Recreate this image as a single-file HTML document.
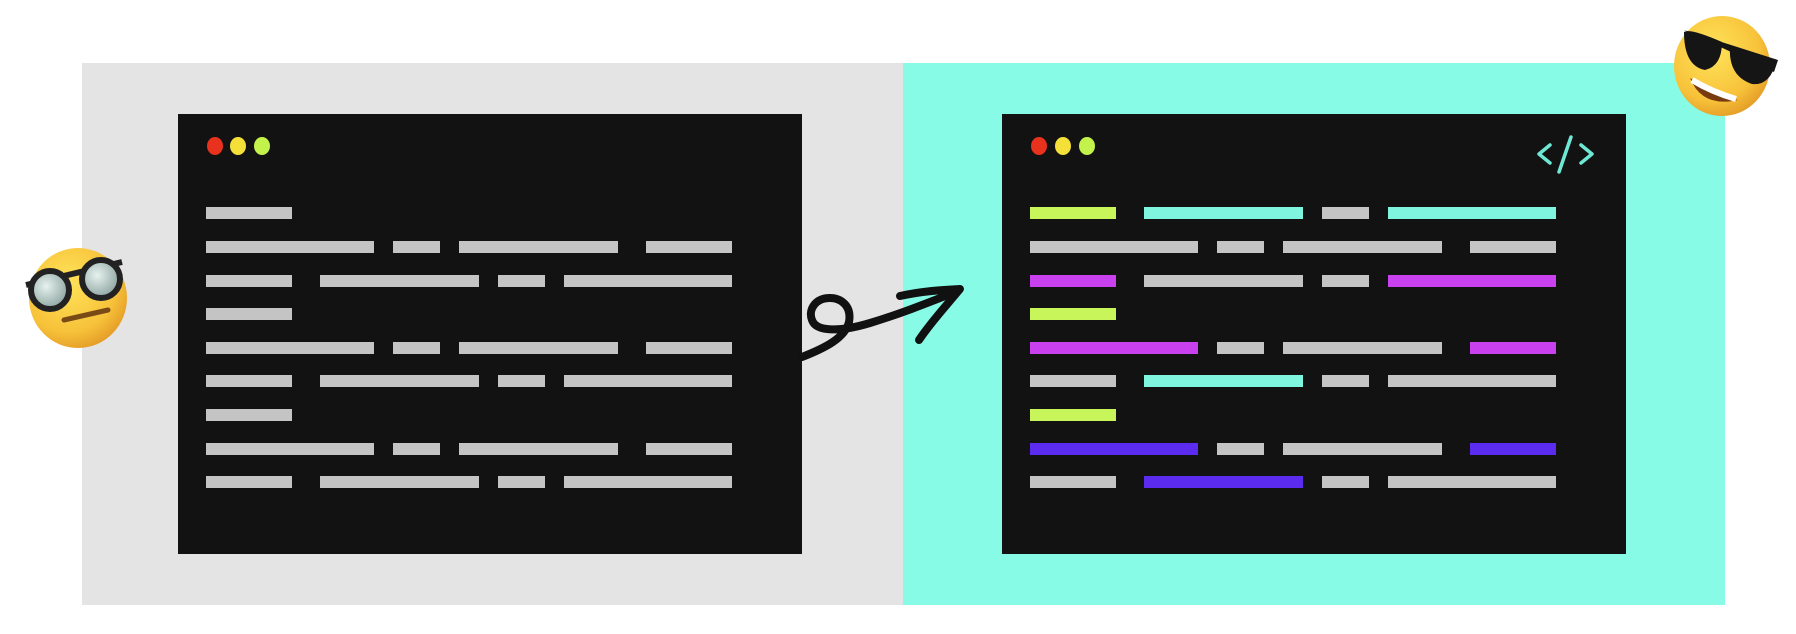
<!DOCTYPE html>
<html><head><style>
html,body{margin:0;padding:0;background:#fff;width:1796px;height:634px;overflow:hidden}
</style></head><body>
<svg width="1796" height="634" viewBox="0 0 1796 634" xmlns="http://www.w3.org/2000/svg">
<defs>
<radialGradient id="face" cx="40%" cy="35%" r="70%"><stop offset="0" stop-color="#ffe45a"/><stop offset="0.7" stop-color="#f7c23a"/><stop offset="1" stop-color="#e39a26"/></radialGradient>
<radialGradient id="lens" cx="40%" cy="40%" r="60%"><stop offset="0" stop-color="#e6f2ee"/><stop offset="1" stop-color="#8fa6a2"/></radialGradient>
</defs>
<rect x="82" y="63" width="822" height="542" fill="#e4e4e4"/>
<rect x="903" y="63" width="822" height="542" fill="#87fbe6"/>
<rect x="178" y="114" width="624" height="440" fill="#121212"/>
<rect x="1002" y="114" width="624" height="440" fill="#121212"/>
<g>
<ellipse cx="215" cy="146" rx="8" ry="9" fill="#e8321e"/>
<ellipse cx="238" cy="146" rx="8" ry="9" fill="#f5e03a"/>
<ellipse cx="262" cy="146" rx="8" ry="9" fill="#c3f24a"/>
<ellipse cx="1039" cy="146" rx="8" ry="9" fill="#e8321e"/>
<ellipse cx="1063" cy="146" rx="8" ry="9" fill="#f5e03a"/>
<ellipse cx="1087" cy="146" rx="8" ry="9" fill="#c3f24a"/>
</g>
<g fill="#c4c4c4">
<rect x="206" y="207" width="86" height="12"/>
<rect x="206" y="241" width="168" height="12"/><rect x="393" y="241" width="47" height="12"/><rect x="459" y="241" width="159" height="12"/><rect x="646" y="241" width="86" height="12"/>
<rect x="206" y="275" width="86" height="12"/><rect x="320" y="275" width="159" height="12"/><rect x="498" y="275" width="47" height="12"/><rect x="564" y="275" width="168" height="12"/>
<rect x="206" y="308" width="86" height="12"/>
<rect x="206" y="342" width="168" height="12"/><rect x="393" y="342" width="47" height="12"/><rect x="459" y="342" width="159" height="12"/><rect x="646" y="342" width="86" height="12"/>
<rect x="206" y="375" width="86" height="12"/><rect x="320" y="375" width="159" height="12"/><rect x="498" y="375" width="47" height="12"/><rect x="564" y="375" width="168" height="12"/>
<rect x="206" y="409" width="86" height="12"/>
<rect x="206" y="443" width="168" height="12"/><rect x="393" y="443" width="47" height="12"/><rect x="459" y="443" width="159" height="12"/><rect x="646" y="443" width="86" height="12"/>
<rect x="206" y="476" width="86" height="12"/><rect x="320" y="476" width="159" height="12"/><rect x="498" y="476" width="47" height="12"/><rect x="564" y="476" width="168" height="12"/>
</g>
<g transform="translate(824,0)">
<rect x="206" y="207" width="86" height="12" fill="#c8f55a"/><rect x="320" y="207" width="159" height="12" fill="#7ff5df"/><rect x="498" y="207" width="47" height="12" fill="#c4c4c4"/><rect x="564" y="207" width="168" height="12" fill="#7ff5df"/>
<g fill="#c4c4c4"><rect x="206" y="241" width="168" height="12"/><rect x="393" y="241" width="47" height="12"/><rect x="459" y="241" width="159" height="12"/><rect x="646" y="241" width="86" height="12"/></g>
<rect x="206" y="275" width="86" height="12" fill="#c940ee"/><rect x="320" y="275" width="159" height="12" fill="#c4c4c4"/><rect x="498" y="275" width="47" height="12" fill="#c4c4c4"/><rect x="564" y="275" width="168" height="12" fill="#c940ee"/>
<rect x="206" y="308" width="86" height="12" fill="#c8f55a"/>
<rect x="206" y="342" width="168" height="12" fill="#c940ee"/><rect x="393" y="342" width="47" height="12" fill="#c4c4c4"/><rect x="459" y="342" width="159" height="12" fill="#c4c4c4"/><rect x="646" y="342" width="86" height="12" fill="#c940ee"/>
<rect x="206" y="375" width="86" height="12" fill="#c4c4c4"/><rect x="320" y="375" width="159" height="12" fill="#7ff5df"/><rect x="498" y="375" width="47" height="12" fill="#c4c4c4"/><rect x="564" y="375" width="168" height="12" fill="#c4c4c4"/>
<rect x="206" y="409" width="86" height="12" fill="#c8f55a"/>
<rect x="206" y="443" width="168" height="12" fill="#5b2cf0"/><rect x="393" y="443" width="47" height="12" fill="#c4c4c4"/><rect x="459" y="443" width="159" height="12" fill="#c4c4c4"/><rect x="646" y="443" width="86" height="12" fill="#5b2cf0"/>
<rect x="206" y="476" width="86" height="12" fill="#c4c4c4"/><rect x="320" y="476" width="159" height="12" fill="#5b2cf0"/><rect x="498" y="476" width="47" height="12" fill="#c4c4c4"/><rect x="564" y="476" width="168" height="12" fill="#c4c4c4"/>
</g>
<g stroke="#6ee8d4" stroke-width="3.5" fill="none" stroke-linecap="round" stroke-linejoin="round">
<polyline points="1550,145 1539,154 1550,163"/>
<line x1="1571" y1="137" x2="1559" y2="172"/>
<polyline points="1581,145 1592,154 1581,163"/>
</g>
<g stroke="#111" stroke-width="8" fill="none" stroke-linecap="round" stroke-linejoin="round">
<path d="M802,357 C825,348 845,338 849,322 C852,305 840,298 830,298 C815,298 808,310 812,320 C816,332 840,332 870,323 C900,314 930,302 958,291"/>
<path d="M900,296 C922,291 942,290 960,289 C946,306 931,322 919,340"/>
</g>
<!-- left emoji -->
<g>
<ellipse cx="78" cy="298" rx="49" ry="50" fill="url(#face)"/>
<path d="M26,285 L122,262" stroke="#222" stroke-width="6"/>
<circle cx="50" cy="290" r="19" fill="url(#lens)" stroke="#222" stroke-width="6"/>
<circle cx="101" cy="279" r="19" fill="url(#lens)" stroke="#222" stroke-width="6"/>
<line x1="64" y1="320" x2="108" y2="310" stroke="#7a4a16" stroke-width="5" stroke-linecap="round"/>
</g>
<!-- right emoji -->
<g>
<ellipse cx="1722" cy="66" rx="48" ry="50" fill="url(#face)"/>
<path d="M1684,30 L1778,60 L1774,72 Z" fill="#151515"/>
<path d="M1684,32 Q1690,28 1722,42 Q1722,66 1705,70 Q1684,66 1684,32Z" fill="#151515"/>
<path d="M1730,46 L1776,62 Q1770,86 1752,84 Q1728,76 1730,46Z" fill="#151515"/>
<path d="M1690,78 Q1702,108 1738,100 Q1718,96 1690,78Z" fill="#7a3a10"/>
<path d="M1692,80 Q1712,92 1736,99" stroke="#fff" stroke-width="6" fill="none"/>
</g>
</svg>
</body></html>
